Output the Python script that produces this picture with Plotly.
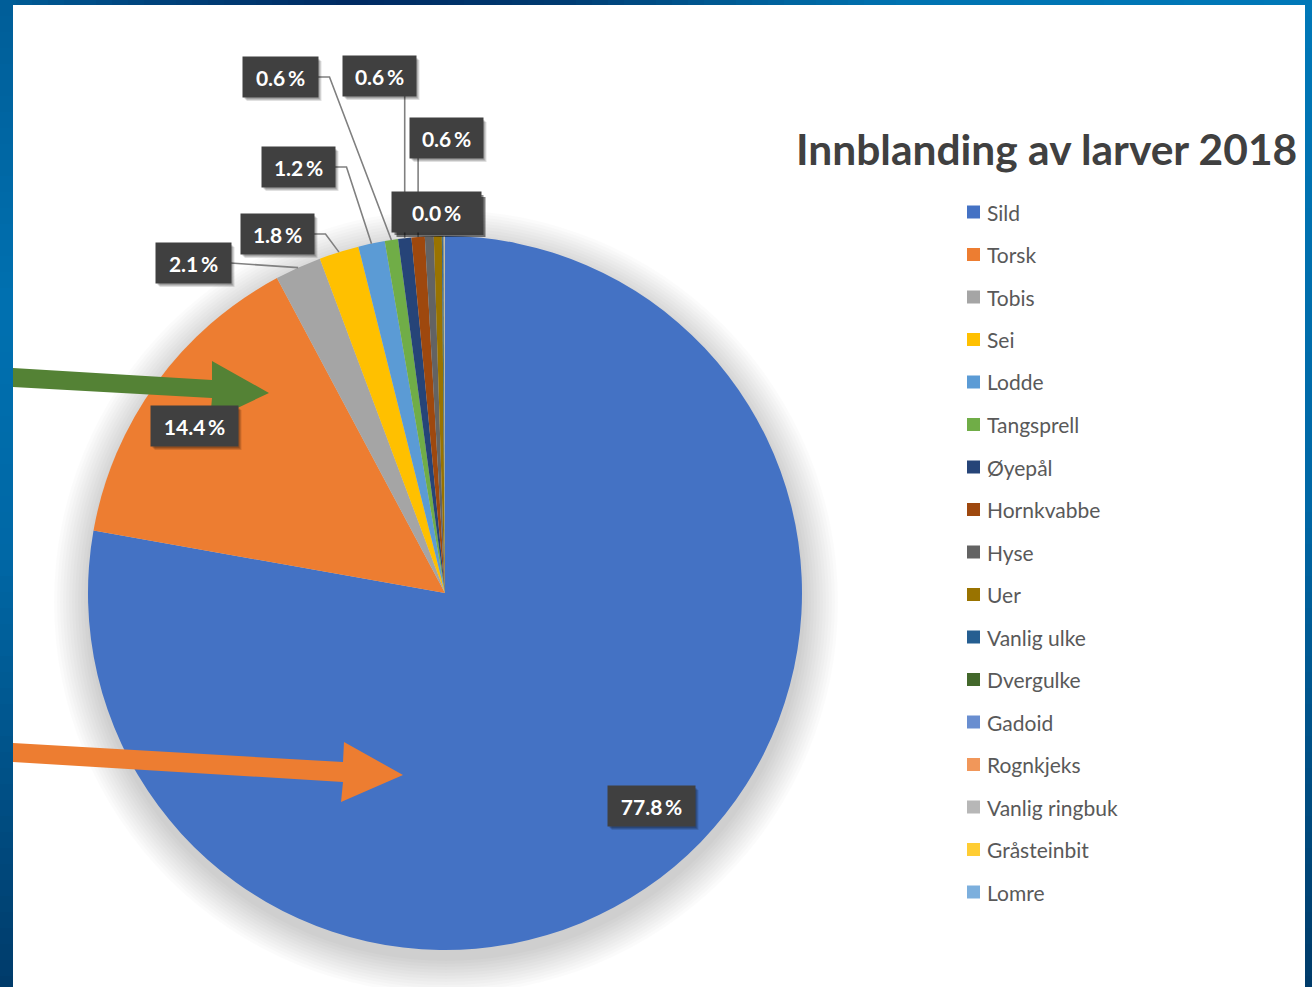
import math
import plotly.graph_objects as go

# ---------------- data ----------------
categories = ["Sild", "Torsk", "Tobis", "Sei", "Lodde", "Tangsprell", "Øyepål",
              "Hornkvabbe", "Hyse", "Uer", "Vanlig ulke", "Dvergulke", "Gadoid",
              "Rognkjeks", "Vanlig ringbuk", "Gråsteinbit", "Lomre"]
shares = [77.8, 14.4, 2.1, 1.8, 1.2, 0.6, 0.6, 0.6, 0.4, 0.36, 0.04, 0.03,
          0.02, 0.02, 0.01, 0.01, 0.01]
colors = ["#4472C4", "#ED7D31", "#A5A5A5", "#FFC000", "#5B9BD5", "#70AD47",
          "#264478", "#9E480E", "#636363", "#997300", "#255E91", "#43682B",
          "#698ED0", "#F1975A", "#B7B7B7", "#FFCD33", "#7CAFDD"]
title_text = "Innblanding av larver 2018"
# slices that carry a data label (index into categories)
labelled = [0, 1, 2, 3, 4, 5, 6, 7, 10]

# ---------------- layout geometry (pixels) ----------------
W, H = 1312, 987
CX, CY, R = 445, 593, 357


def fx(x):
    return x / W


def fy(y):
    return 1 - y / H


def hex2rgb(h):
    h = h.lstrip("#")
    return tuple(int(h[i:i + 2], 16) for i in (0, 2, 4))


def lerp_color(stops, t):
    for (a, ca), (b, cb) in zip(stops[:-1], stops[1:]):
        if a <= t <= b:
            f = 0 if b == a else (t - a) / (b - a)
            c1, c2 = hex2rgb(ca), hex2rgb(cb)
            return "rgb(%d,%d,%d)" % tuple(round(c1[k] + (c2[k] - c1[k]) * f) for k in range(3))
    return stops[-1][1]


def rect_px(x0, y0, x1, y1, color, layer="below"):
    return dict(type="rect", xref="paper", yref="paper", layer=layer,
                x0=fx(x0), x1=fx(x1), y0=fy(y1), y1=fy(y0),
                fillcolor=color, line=dict(width=0))


shapes = []

# background frame (blue gradient bands)
top_stops = [(0, "#005e98"), (150, "#00437c"), (350, "#002a62"), (550, "#003a70"),
             (750, "#005f99"), (900, "#0073b1"), (1312, "#0078b8")]
left_stops = [(0, "#005e98"), (300, "#0070b0"), (550, "#0068a6"), (987, "#003b6a")]
right_stops = [(0, "#0078b8"), (500, "#0068a6"), (987, "#003b6a")]
step = 16
for x0 in range(0, W, step):
    shapes.append(rect_px(x0, 0, min(x0 + step, W), 6, lerp_color(top_stops, x0 + step / 2)))
for y0 in range(0, H, step):
    shapes.append(rect_px(0, y0, 13, min(y0 + step, H), lerp_color(left_stops, y0 + step / 2)))
    shapes.append(rect_px(1305, y0, W, min(y0 + step, H), lerp_color(right_stops, y0 + step / 2)))
# white panel
shapes.append(rect_px(13, 5, 1305, H, "white"))
# soft pie shadow
for k in range(12):
    rr = R + 2 + k * 3
    ox, oy = 1, 9
    shapes.append(dict(type="circle", xref="paper", yref="paper", layer="below",
                       x0=fx(CX + ox - rr), x1=fx(CX + ox + rr),
                       y0=fy(CY + oy + rr), y1=fy(CY + oy - rr),
                       fillcolor="rgba(0,0,0,0.016)", line=dict(width=0)))

# ---------------- pie ----------------
dom_x = [fx(CX - R), fx(CX + R)]
dom_y = [fy(CY + R), fy(CY - R)]
pie = go.Pie(labels=categories, values=shares, sort=False, direction="clockwise",
             rotation=0, textinfo="none", hoverinfo="label+percent",
             marker=dict(colors=colors, line=dict(width=0)),
             domain=dict(x=dom_x, y=dom_y), showlegend=False)
fig = go.Figure(pie)

# slice mid-angle edge points computed from the data
total = sum(shares)
edges = []
cum = 0.0
for v in shares:
    th = 2 * math.pi * (cum + v / 2) / total
    edges.append((CX + R * math.sin(th), CY - R * math.cos(th)))
    cum += v
pct = [("%.1f" % (v / total * 100)) + "\u2009%" for v in shares]

# label boxes: centre x, centre y, box width, leader type
label_pos = {
    0: (651, 806, 87, None),
    1: (194, 426, 87, None),
    2: (193, 263, 75, "straight"),
    3: (277, 234, 73, "elbow"),
    4: (298, 167, 73, "elbow"),
    5: (280, 77, 75, "elbow"),
    6: (379, 76, 73, "vertical"),
    7: (446, 138, 73, "vertical"),
    10: (436, 212, 89, None),
}
BOX_H = 40
annotations = []
for i in labelled:
    lx, ly, bw, kind = label_pos[i]
    ex, ey = edges[i]
    if kind == "straight":
        path = "M %f %f L %f %f" % (fx(lx + bw / 2), fy(ly), fx(ex), fy(ey))
    elif kind == "elbow":
        sx = lx + bw / 2
        path = "M %f %f L %f %f L %f %f" % (fx(sx), fy(ly), fx(sx + 12), fy(ly), fx(ex), fy(ey))
    elif kind == "vertical":
        path = "M %f %f L %f %f" % (fx(ex), fy(ly + BOX_H / 2), fx(ex), fy(ey))
    else:
        path = None
    if path:
        shapes.append(dict(type="path", xref="paper", yref="paper", layer="above",
                           path=path, line=dict(color="#808080", width=1.6)))
    # box shadow
    strong = (i == 10)
    layers = [(5, 0.5), (3, 0.45)] if strong else [(4, 0.12), (3, 0.14), (2, 0.16)]
    for off, a in layers:
        shapes.append(rect_px(lx - bw / 2 + off, ly - BOX_H / 2 + off,
                              lx + bw / 2 + off, ly + BOX_H / 2 + off,
                              "rgba(0,0,0,%.2f)" % a, layer="above"))
    annotations.append(dict(xref="paper", yref="paper", x=fx(lx), y=fy(ly), showarrow=False,
                            text="<b>%s</b>" % pct[i],
                            font=dict(family="Lato", size=21, color="white"),
                            bgcolor="#404040", width=bw - 8, height=BOX_H - 8, borderpad=4,
                            xanchor="center", yanchor="middle"))

# arrows (decorative pointers)
green_arrow = [(13, 368), (212, 380), (212, 361), (269, 393), (210, 421), (212, 398), (13, 387)]
orange_arrow = [(13, 743), (343, 762), (344, 742), (403, 775), (341, 802), (343, 782), (13, 762)]
for pts, col in ((green_arrow, "#548235"), (orange_arrow, "#ED7D31")):
    path = "M " + " L ".join("%f %f" % (fx(x), fy(y)) for x, y in pts) + " Z"
    shapes.append(dict(type="path", xref="paper", yref="paper", layer="above",
                       path=path, fillcolor=col, line=dict(width=0)))

# legend (built from categories / colors)
LX, LY0, LDY = 967, 212, 42.5
for i, (name, col) in enumerate(zip(categories, colors)):
    yy = LY0 + i * LDY
    shapes.append(rect_px(LX, yy - 6.5, LX + 13, yy + 6.5, col, layer="above"))
    annotations.append(dict(xref="paper", yref="paper", x=fx(LX + 18), y=fy(yy),
                            xanchor="left", yanchor="middle", showarrow=False, text=name,
                            font=dict(family="Lato", size=21, color="#595959")))

# title
annotations.append(dict(xref="paper", yref="paper", x=fx(794), y=fy(148), xanchor="left",
                        yanchor="middle", showarrow=False, text="<b>%s</b>" % title_text,
                        font=dict(family="Lato", size=42.5, color="#404040")))

fig.update_layout(width=W, height=H, margin=dict(l=0, r=0, t=0, b=0),
                  paper_bgcolor="#005f9e", plot_bgcolor="white",
                  shapes=shapes, annotations=annotations, showlegend=False,
                  font=dict(family="Lato"))
fig.write_html("out.html", config={"displayModeBar": False},
               post_script="document.body.style.margin='0';document.body.style.overflow='hidden';")
